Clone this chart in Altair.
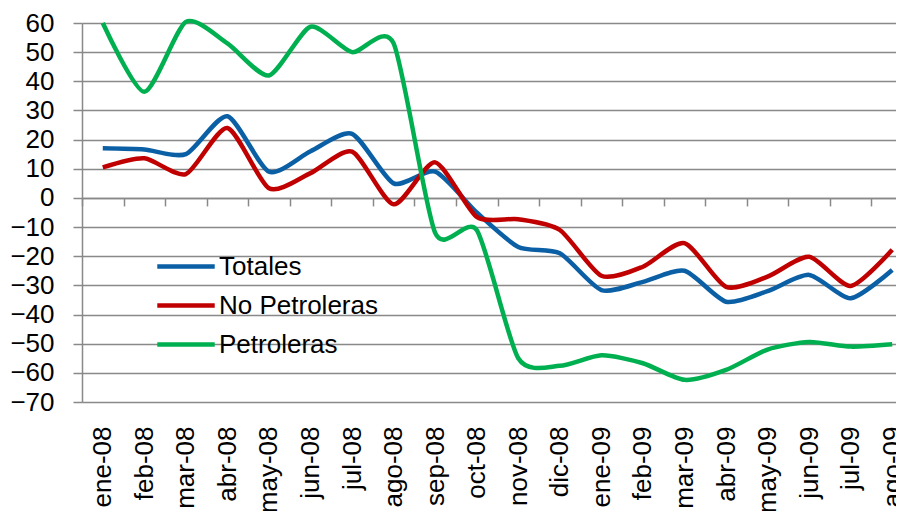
import altair as alt
import pandas as pd

months = ["ene-08", "feb-08", "mar-08", "abr-08", "may-08", "jun-08", "jul-08",
          "ago-08", "sep-08", "oct-08", "nov-08", "dic-08", "ene-09", "feb-09",
          "mar-09", "abr-09", "may-09", "jun-09", "jul-09", "ago-09"]

totales = [17, 16.6, 15, 28, 9, 16, 22, 5, 9, -5, -16.8, -19, -31.6, -28.8,
           -25, -35.6, -32, -26.4, -34.4, -24.7]
no_petroleras = [10.5, 13.6, 8.2, 24, 3.3, 8.5, 15.9, -2.2, 12.2, -6.5, -7.3, -11,
                 -26.7, -23.6, -15.5, -30.5, -27, -20.2, -30.2, -17.8]
petroleras = [60, 36.4, 60.4, 53, 42, 58.7, 50, 53, -12, -11, -55, -57.6,
              -54, -56.7, -62.4, -59, -52, -49.4, -51, -50.2]

series_names = ["Totales", "No Petroleras", "Petroleras"]
series_colors = ["#0B5FA5", "#C00000", "#00B050"]
y_ticks = list(range(-70, 61, 10))

rows = []
for name, vals in zip(series_names, [totales, no_petroleras, petroleras]):
    for i, v in enumerate(vals):
        rows.append({"idx": i, "mes": months[i], "series": name, "value": v})
df = pd.DataFrame(rows)

FONT = "Liberation Sans, Arial, sans-serif"
GRAY = "#898989"
W, H = 814, 379
step = 41.55
xmax = -0.5 + W / step
zero_offset = -(H * 70 / 130)

label_expr = "[" + ",".join("'%s'" % m for m in months) + "][datum.value]"

yenc = alt.Y("value:Q",
             scale=alt.Scale(domain=[-70, 60], nice=False, zero=False),
             axis=alt.Axis(values=y_ticks, title=None, grid=True, gridColor=GRAY,
                           gridWidth=1.5, tickColor=GRAY, tickWidth=1.5, tickSize=9,
                           domainColor=GRAY, domainWidth=1.5, labelFont=FONT,
                           labelFontSize=26, labelColor="black", labelPadding=19,
                           labelBound=False, labelOverlap=False))

xscale = alt.Scale(domain=[-0.5, xmax], nice=False, zero=False)

lines = alt.Chart(df).mark_line(interpolate="cardinal", tension=0.3,
                                strokeWidth=4.5).encode(
    x=alt.X("idx:Q", scale=xscale,
            axis=alt.Axis(orient="bottom", values=[i - 0.5 for i in range(20)],
                          labels=False, grid=False, tickSize=8, tickColor=GRAY,
                          tickWidth=1.5, domainColor=GRAY, domainWidth=1.5,
                          offset=zero_offset, title=None)),
    y=yenc,
    color=alt.Color("series:N", sort=series_names,
                    scale=alt.Scale(domain=series_names, range=series_colors),
                    legend=alt.Legend(orient="none", legendX=73, legendY=224,
                                      title=None, symbolType="stroke",
                                      symbolSize=3300, symbolStrokeWidth=4.5,
                                      labelFontSize=26, labelFont=FONT,
                                      labelColor="black", labelOffset=2,
                                      rowPadding=0, clipHeight=39)),
    detail="series:N",
)

labels = alt.Chart(df).mark_line(opacity=0).encode(
    x=alt.X("idx:Q", scale=xscale,
            axis=alt.Axis(orient="bottom", values=list(range(20)),
                          labelExpr=label_expr, ticks=False, domain=False,
                          grid=False, labelAngle=-90, labelFont=FONT,
                          labelFontSize=26, labelColor="black",
                          labelPadding=24, labelBound=False,
                          labelOverlap=False, title=None)),
    y=yenc,
    detail="series:N",
)

chart = alt.layer(lines, labels).resolve_axis(x="independent").properties(
    width=W, height=H,
    autosize=alt.AutoSizeParams(type="none"),
    padding={"left": 74, "top": 15, "right": 0, "bottom": 110},
).configure_view(stroke=None)

chart.save("out.html", embed_options={"renderer": "svg", "actions": False})
